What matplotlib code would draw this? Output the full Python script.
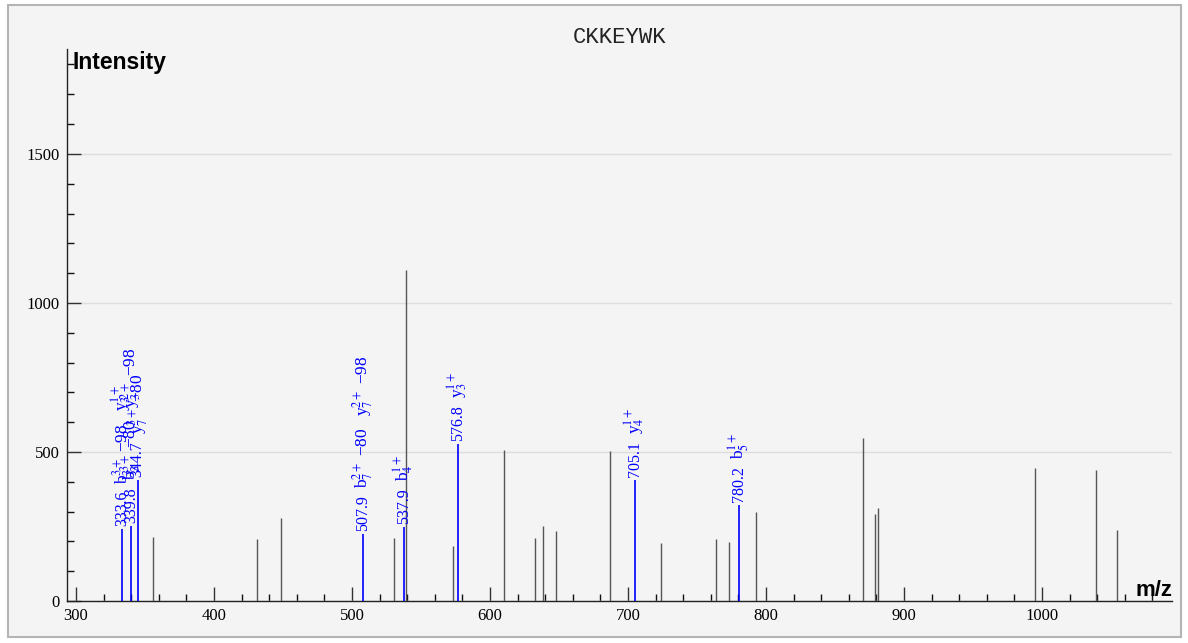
import matplotlib
matplotlib.use("Agg")
import matplotlib.pyplot as plt
from matplotlib.patches import Rectangle
from matplotlib.ticker import MultipleLocator

# peptide and spectrum values
TITLE = "CKKEYWK"

# unannotated peaks (grey)
peak_mz = [355.5, 430.9, 448.6, 530.4, 539.3, 573.2, 610.1, 632.6, 638.2, 648.0,
           687.2, 723.9, 763.8, 773.4, 792.5, 870.5, 879.0, 880.9, 994.9, 1039.3, 1054.1]
peak_int = [216, 207, 277, 211, 1111, 186, 507, 211, 252, 236,
            502, 196, 209, 197, 298, 546, 292, 311, 447, 440, 238]

# annotated (matched) peaks (blue)
ion_mz = [333.6, 339.8, 344.7, 507.9, 537.9, 576.8, 705.1, 780.2]
ion_int = [241, 252, 406, 224, 249, 526, 406, 321]
ion_labels = [
    ["333.6", r"b$_3^{3+}$ −98", r"y$_3^{1+}$"],
    ["339.8", r"b$_3^{3+}$ −80", r"y$_3^{2+}$ −98"],
    ["344.7", r"y$_7^{3+}$ −80"],
    ["507.9", r"b$_7^{2+}$ −80", r"y$_7^{2+}$ −98"],
    ["537.9", r"b$_4^{1+}$"],
    ["576.8", r"y$_3^{1+}$"],
    ["705.1", r"y$_4^{1+}$"],
    ["780.2", r"b$_5^{1+}$"],
]

plt.rcParams["mathtext.fontset"] = "stix"
serif = "Liberation Serif"

fig = plt.figure(figsize=(11.88, 6.43), dpi=100, facecolor="white")
fig.patches.append(Rectangle((0.007, 0.009), 0.987, 0.983, transform=fig.transFigure,
                             facecolor="#f4f4f4", edgecolor="#b4b4b4", lw=1.5, zorder=-1))

ax = fig.add_axes([0.0564, 0.0653, 0.9301, 0.8585])
ax.set_facecolor("none")
ax.set_xlim(293.5, 1094.2)
ax.set_ylim(0, 1852)

ax.vlines(peak_mz, 0, peak_int, color="#555555", lw=1.0, zorder=3)
ax.vlines(ion_mz, 0, ion_int, color="#0000ff", lw=1.2, zorder=4)

for side in ("top", "right"):
    ax.spines[side].set_visible(False)
for side in ("left", "bottom"):
    ax.spines[side].set_color("#222222")
    ax.spines[side].set_linewidth(1.0)

ax.xaxis.set_major_locator(MultipleLocator(100))
ax.xaxis.set_minor_locator(MultipleLocator(20))
ax.yaxis.set_major_locator(MultipleLocator(500))
ax.yaxis.set_minor_locator(MultipleLocator(100))
ax.tick_params(which="major", direction="in", length=10, width=1, color="#333333", pad=5)
ax.tick_params(which="minor", direction="in", length=5, width=1, color="#111111")
for lab in ax.get_xticklabels() + ax.get_yticklabels():
    lab.set_fontfamily(serif)
    lab.set_fontsize(12)

ax.grid(True, axis="y", which="major", color="#dddddd", lw=1)
ax.set_axisbelow(True)

ax.set_title(TITLE, family="Liberation Mono", fontsize=16, pad=4, color="#222222")
fig.text(73 / 1188, 1 - 63 / 643, "Intensity", ha="left", va="center",
         family="Liberation Sans", weight="bold", fontsize=16.5)
fig.text(1172 / 1188, 1 - 591 / 643, "m/z", ha="right", va="center",
         family="Liberation Sans", weight="bold", fontsize=16)

# stack the labels above each matched peak
renderer = fig.canvas.get_renderer()
for mz, h, texts in zip(ion_mz, ion_int, ion_labels):
    off = 3
    for i, s in enumerate(texts):
        t = ax.annotate(s, (mz, h), xytext=(0, off), textcoords="offset pixels",
                        rotation=90, ha="center", va="bottom", color="#0000ff",
                        fontsize=11.5 if i == 0 else 12.5, family=serif, zorder=5)
        off += t.get_window_extent(renderer).height + (7 if i == 0 else 12)

fig.savefig("out.png", dpi=100, facecolor=fig.get_facecolor())
